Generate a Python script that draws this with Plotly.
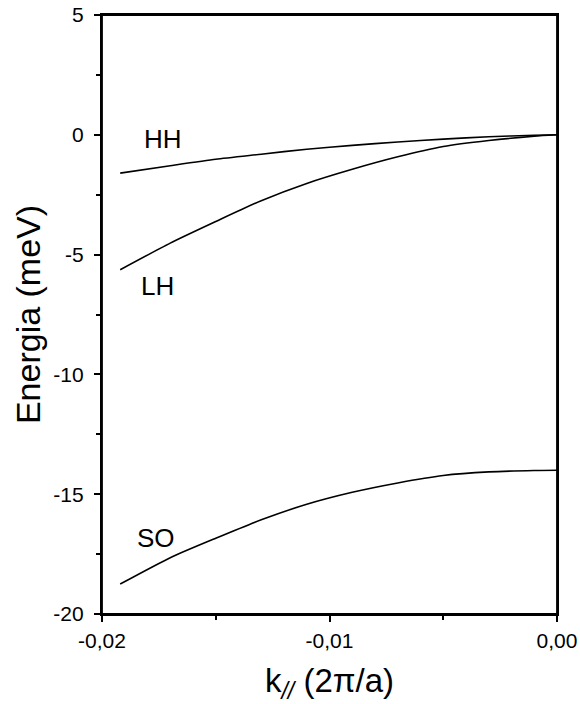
import plotly.graph_objects as go

# wave vector k_// (2pi/a)
k = [-0.0192, -0.017, -0.015, -0.013, -0.011, -0.009, -0.007, -0.005, -0.003, -0.001, 0.0]
# band energies (meV)
hh = [-1.60, -1.29, -1.02, -0.81, -0.60, -0.44, -0.30, -0.18, -0.08, -0.02, 0.0]
lh = [-5.63, -4.52, -3.62, -2.75, -2.03, -1.44, -0.92, -0.49, -0.24, -0.06, 0.0]
so = [-18.75, -17.65, -16.84, -16.07, -15.42, -14.92, -14.53, -14.22, -14.07, -14.01, -14.0]

band_labels = ["HH", "LH", "SO"]
label_k = [-0.01731, -0.01758, -0.01762]
label_e = [-0.17, -6.29, -16.81]

x_tickvals = [-0.02, -0.01, 0.0]
x_ticktext = ["-0,02", "-0,01", "0,00"]
y_tickvals = [5, 0, -5, -10, -15, -20]
y_ticktext = ["5", "0", "-5", "-10", "-15", "-20"]

FONT = "Liberation Sans, Arial, Helvetica, sans-serif"

fig = go.Figure()
for name, vals in zip(band_labels, [hh, lh, so]):
    fig.add_trace(go.Scatter(x=k, y=vals, mode="lines", name=name,
                             line=dict(color="black", width=1.6, shape="spline", smoothing=0.6),
                             showlegend=False, hoverinfo="skip"))

for txt, xk, ye in zip(band_labels, label_k, label_e):
    fig.add_annotation(x=xk, y=ye, text=txt, showarrow=False,
                       font=dict(family=FONT, size=26, color="black"),
                       xanchor="center", yanchor="middle")

# plot frame (box around the plotting area)
fig.add_shape(type="rect", xref="paper", yref="paper", x0=0, x1=1, y0=0, y1=1,
              line=dict(color="black", width=1.8), fillcolor="rgba(0,0,0,0)", layer="above")

fig.update_layout(
    width=580, height=704,
    margin=dict(l=102, r=23, t=15, b=90, autoexpand=False),
    plot_bgcolor="white", paper_bgcolor="white",
    font=dict(family=FONT, color="black"),
)

fig.update_xaxes(
    range=[-0.02, 0.0], showgrid=False, zeroline=False, automargin=False,
    showline=True, linecolor="black", linewidth=2, mirror=True,
    ticks="outside", ticklen=6, tickwidth=1.5, tickcolor="black",
    tickvals=x_tickvals, ticktext=x_ticktext, ticklabeloverflow="allow",
    tickfont=dict(family=FONT, size=21, color="black"),
    ticklabelstandoff=1,
    minor=dict(ticks="outside", ticklen=4, tickwidth=1.5, tickcolor="black", dtick=0.005, tick0=0.0),
    title=dict(text="k<sub><i>//</i></sub> (2π/a)", font=dict(family=FONT, size=33, color="black"), standoff=20),
)
fig.update_yaxes(
    range=[-20, 5], showgrid=False, zeroline=False, automargin=False,
    showline=True, linecolor="black", linewidth=2.2, mirror=True,
    ticks="outside", ticklen=6, tickwidth=1.5, tickcolor="black",
    tickvals=y_tickvals, ticktext=y_ticktext, ticklabeloverflow="allow",
    tickfont=dict(family=FONT, size=21, color="black"),
    ticklabelstandoff=6,
    minor=dict(ticks="outside", ticklen=4, tickwidth=1.5, tickcolor="black", dtick=2.5, tick0=0),
    title=dict(text="Energia (meV)", font=dict(family=FONT, size=34, color="black"), standoff=2),
)

# remove the page's default 8px body margin so the figure sits at the window origin
fig.write_html("out.html", config={"displayModeBar": False},
               post_script="document.body.style.margin='0px';")
